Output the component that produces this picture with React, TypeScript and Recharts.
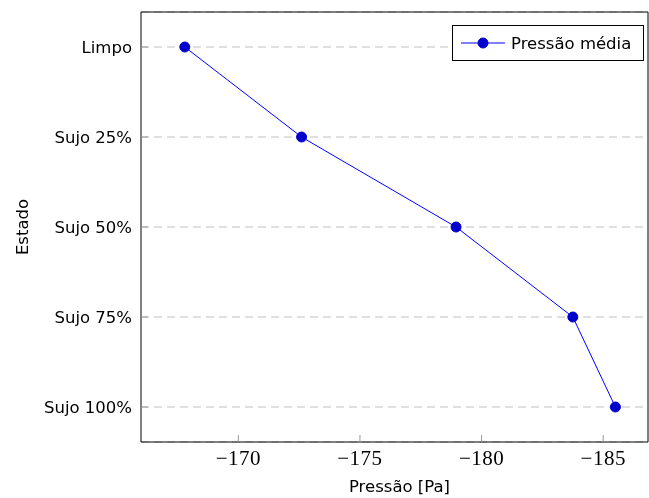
import React from 'react';
import { LineChart, Line, XAxis, YAxis, CartesianGrid } from 'recharts';

const estados = ['Limpo', 'Sujo 25%', 'Sujo 50%', 'Sujo 75%', 'Sujo 100%'];
const pressoes = [-167.8, -172.6, -178.95, -183.75, -185.5];
const xTicks = [-170, -175, -180, -185];
const xDomain: [number, number] = [-186.84, -166.0];
const seriesName = 'Pressão média';
const xLabel = 'Pressão [Pa]';
const yLabel = 'Estado';

const data = estados.map((e, i) => ({ estado: e, pressao: pressoes[i] }));

const LINE = '#0000ff';
const MARK = '#0000cc';
const SANS = '"DejaVu Sans", sans-serif';
const SERIF = '"Liberation Serif", serif';

const fmt = (v: number) => (v < 0 ? '\u2212' + Math.abs(v) : String(v));

const YLabel = (props: any) => {
  const vb = props.viewBox || {};
  const cx = 22.5;
  const cy = vb.y + vb.height / 2;
  return (
    <text x={cx} y={cy} transform={`rotate(-90, ${cx}, ${cy})`} textAnchor="middle" dominantBaseline="central"
      fontFamily={SANS} fontSize={16.5} fill="#000">{yLabel}</text>
  );
};

export default function App() {
  return (
    <div style={{ position: 'fixed', left: 0, top: 0, width: 649, height: 498 }}>
      <LineChart width={649} height={498} data={data} layout="vertical" margin={{ top: 11, right: 0, bottom: 0, left: 8 }}>
        <CartesianGrid vertical={false} stroke="#c0c0c0" strokeDasharray="8 5" />
        <XAxis type="number" dataKey="pressao" domain={xDomain} allowDataOverflow reversed ticks={xTicks}
          tickFormatter={fmt} height={56} tickSize={-7} tickMargin={15}
          axisLine={{ stroke: '#000' }} tickLine={{ stroke: '#999' }}
          tick={{ fill: '#000', fontFamily: SERIF, fontSize: 21, letterSpacing: 0.5 }}
          label={{ value: xLabel, position: 'insideBottom', offset: 6, dx: 5, fill: '#000', fontFamily: SANS, fontSize: 16.5 }} />
        <XAxis xAxisId="top" orientation="top" type="number" dataKey="pressao" domain={xDomain} allowDataOverflow reversed ticks={xTicks}
          height={1} tickSize={-7} tick={false} axisLine={{ stroke: '#000' }} tickLine={{ stroke: '#999' }} />
        <YAxis type="category" dataKey="estado" scale="point" width={133} padding={{ top: 35, bottom: 35 }}
          tickSize={-7} tickMargin={16} axisLine={{ stroke: '#000' }} tickLine={{ stroke: '#999' }}
          tick={{ fill: '#000', fontFamily: SANS, fontSize: 16.5 }} label={<YLabel />} />
        <YAxis yAxisId="right" orientation="right" type="category" dataKey="estado" scale="point" width={1}
          padding={{ top: 35, bottom: 35 }} tickSize={-7} tick={false} axisLine={{ stroke: '#000' }} tickLine={{ stroke: '#999' }} />
        <Line dataKey="pressao" name={seriesName} stroke={LINE} strokeWidth={1} isAnimationActive={false}
          dot={{ r: 5, fill: MARK, stroke: MARK, strokeWidth: 1 }} />
      </LineChart>
      <div style={{ position: 'absolute', left: 452, top: 25, width: 192, height: 36, boxSizing: 'border-box',
        border: '1px solid #000', background: '#fff', display: 'flex', alignItems: 'center' }}>
        <svg width={56} height={20} style={{ marginLeft: 8, display: 'block' }}>
          <line x1={0} y1={10} x2={44} y2={10} stroke={LINE} strokeWidth={1} />
          <circle cx={22} cy={10} r={5} fill={MARK} stroke={MARK} strokeWidth={1} />
        </svg>
        <span style={{ fontFamily: SANS, fontSize: 16.5, color: '#000', marginLeft: -6 }}>{seriesName}</span>
      </div>
    </div>
  );
}
